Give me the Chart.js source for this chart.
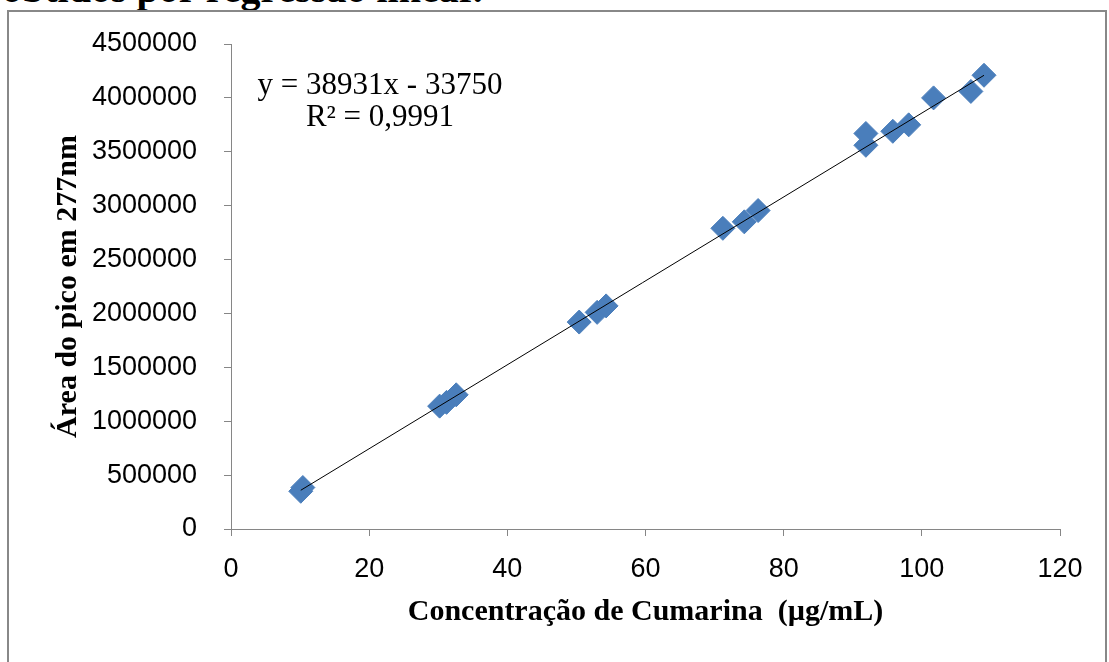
<!DOCTYPE html>
<html>
<head>
<meta charset="utf-8">
<script src="https://cdn.jsdelivr.net/npm/chart.js@4.4.1/dist/chart.umd.min.js"></script>
<style>
  html, body { margin: 0; padding: 0; background: #fff; width: 1109px; height: 662px; overflow: hidden; }
  #cut { position: absolute; left: 2px; top: -31px; font: bold 40px 'Liberation Serif', serif; line-height: 40px; white-space: nowrap; color: #000; }
  #frame { position: absolute; left: 7px; top: 10px; width: 1096px; height: 700px; border: 2px solid #888; }
  #c { position: absolute; left: 0; top: 0; }
  #eq { position: absolute; left: 240px; top: 68px; width: 280px; text-align: center; font: 31px 'Liberation Serif', serif; line-height: 32px; color: #000; white-space: nowrap; }
</style>
</head>
<body>
<div id="cut">obtidos por regressão linear.</div>
<div id="frame"></div>
<canvas id="c" width="1109" height="662"></canvas>
<div id="eq">y = 38931x - 33750<br>R² = 0,9991</div>
<script>
// Data
const concentration = [10.1, 10.4, 30.2, 31.2, 32.6, 50.4, 53.0, 54.3, 71.2, 74.3, 76.3, 91.9, 91.9, 95.8, 98.1, 101.7, 107.1, 109.0];
const peakArea = [350000, 385000, 1140000, 1175000, 1245000, 1920000, 2010000, 2070000, 2790000, 2850000, 2955000, 3560000, 3670000, 3690000, 3750000, 4000000, 4060000, 4210000];
const trendSlope = 38931;
const trendIntercept = -33750;
const xTicks = [0, 20, 40, 60, 80, 100, 120];
const yTicks = [0, 500000, 1000000, 1500000, 2000000, 2500000, 3000000, 3500000, 4000000, 4500000];
const xTitle = 'Concentração de Cumarina  (µg/mL)';
const yTitle = 'Área do pico em 277nm';

const points = concentration.map((x, i) => ({ x: x, y: peakArea[i] }));
const xMin = Math.min(...concentration), xMax = Math.max(...concentration);
const trend = [xMin, xMax].map(x => ({ x: x, y: trendSlope * x + trendIntercept }));

const axisColor = '#868686';
new Chart(document.getElementById('c'), {
  type: 'scatter',
  data: {
    datasets: [
      { type: 'line', data: trend, borderColor: '#000', borderWidth: 1, pointRadius: 0, fill: false },
      { data: points, pointStyle: 'rectRot', pointRadius: 12, pointHoverRadius: 12,
        backgroundColor: '#4A7EBB', borderColor: '#4A7EBB', borderWidth: 1 }
    ]
  },
  options: {
    responsive: false,
    animation: false,
    events: [],
    layout: { padding: { left: 0, right: 49, top: 44, bottom: 0 } },
    plugins: { legend: { display: false }, tooltip: { enabled: false } },
    scales: {
      x: {
        type: 'linear', min: xTicks[0], max: xTicks[xTicks.length - 1],
        afterBuildTicks: s => { s.ticks = xTicks.map(v => ({ value: v })); },
        afterFit: s => { s.height = 662 - 529; },
        ticks: { color: '#000', padding: 17, font: { family: 'Liberation Sans', size: 27 }, maxRotation: 0 },
        grid: { drawOnChartArea: false, drawTicks: true, tickLength: 7, color: axisColor },
        border: { color: axisColor, width: 1 },
        title: { display: true, text: xTitle, color: '#000', padding: { top: 0, bottom: 32 },
                 font: { family: 'Liberation Serif', size: 30, weight: 'bold' } }
      },
      y: {
        type: 'linear', min: yTicks[0], max: yTicks[yTicks.length - 1],
        afterBuildTicks: s => { s.ticks = yTicks.map(v => ({ value: v })); },
        afterFit: s => { s.width = 231; },
        ticks: { color: '#000', padding: 27, font: { family: 'Liberation Sans', size: 27 }, callback: v => String(v) },
        grid: { drawOnChartArea: false, drawTicks: true, tickLength: 7, color: axisColor },
        border: { color: axisColor, width: 1 },
        title: { display: true, text: yTitle, color: '#000', padding: { top: 50, bottom: 0 },
                 font: { family: 'Liberation Serif', size: 30, weight: 'bold' } }
      }
    }
  }
});
</script>
</body>
</html>
